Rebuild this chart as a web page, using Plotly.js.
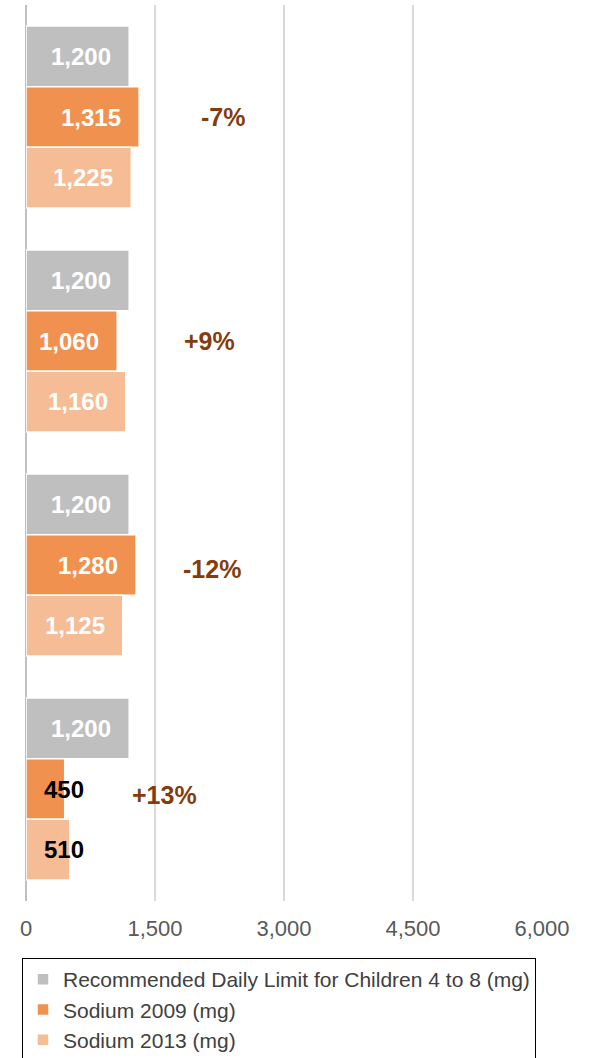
<!DOCTYPE html>
<html>
<head>
<meta charset="utf-8">
<script src="https://cdn.plot.ly/plotly-3.0.1.min.js"></script>
<style>html,body{margin:0;padding:0;background:#fff;}#chart{width:592px;height:1058px;}</style>
</head>
<body>
<div id="chart"></div>
<script>
// ---- data ----
const categories = ['Group 1', 'Group 2', 'Group 3', 'Group 4'];
const recommended = [1200, 1200, 1200, 1200];
const sodium2009 = [1315, 1060, 1280, 450];
const sodium2013 = [1225, 1160, 1125, 510];
const changeLabels = ['-7%', '+9%', '-12%', '+13%'];
const seriesNames = ['Recommended Daily Limit for Children 4 to 8 (mg)', 'Sodium 2009 (mg)', 'Sodium 2013 (mg)'];
const xTicks = [0, 1500, 3000, 4500, 6000];

// ---- style ----
const colors = ['#BFBFBF', '#F0914F', '#F6BC95'];
const FONT = 'Liberation Sans, Arial, sans-serif';
const W = 592, H = 1058;
const margin = {l: 26, r: 50, t: 5, b: 157, autoexpand: false};
const bargap = 0.1875;
const plotH = H - margin.t - margin.b;
const slotPx = (plotH / categories.length) * (1 - bargap) / 3;
const changeXShift = [60, 56, 45, 60];
const changeYShift = [0, 0, -4, -6];

const series = [recommended, sodium2009, sodium2013];
const traces = series.map((vals, i) => ({
  type: 'bar',
  orientation: 'h',
  name: seriesNames[i],
  legendgroup: 'g' + i,
  y: categories,
  x: vals,
  marker: {color: colors[i], line: {color: '#FFFFFF', width: 1.5}},
  hoverinfo: 'x+name'
}));

const annotations = [];
series.forEach((vals, i) => {
  const yshift = (1 - i) * slotPx;
  vals.forEach((v, j) => {
    const fits = v >= 800;
    annotations.push({
      x: fits ? v : 0,
      y: categories[j],
      xref: 'x', yref: 'y',
      text: v.toLocaleString('en-US'),
      showarrow: false,
      xanchor: fits ? 'right' : 'left',
      xshift: fits ? -16 : 16,
      yshift: yshift,
      font: {family: FONT, size: 24, color: fits ? '#FFFFFF' : '#000000', weight: 'bold'}
    });
  });
});
changeLabels.forEach((t, j) => {
  annotations.push({
    x: Math.max(sodium2009[j], sodium2013[j]),
    y: categories[j],
    xref: 'x', yref: 'y',
    text: '<b>' + t + '</b>',
    showarrow: false,
    xanchor: 'left',
    xshift: changeXShift[j],
    yshift: changeYShift[j],
    font: {family: FONT, size: 25, color: '#843C0C', weight: 'bold'}
  });
});

const layout = {
  width: W, height: H,
  margin: margin,
  paper_bgcolor: '#FFFFFF',
  plot_bgcolor: '#FFFFFF',
  barmode: 'group',
  bargap: bargap,
  bargroupgap: 0,
  font: {family: FONT, color: '#595959'},
  xaxis: {
    range: [0, 6000],
    tickvals: xTicks,
    ticktext: xTicks.map(v => v.toLocaleString('en-US')),
    showgrid: true,
    gridcolor: '#D9D9D9',
    gridwidth: 1.2,
    zeroline: true,
    zerolinecolor: '#BFBFBF',
    zerolinewidth: 1.2,
    showline: false,
    ticks: '',
    ticklabelstandoff: 12,
    tickfont: {family: FONT, size: 22, color: '#595959'},
    automargin: false,
    fixedrange: true
  },
  yaxis: {
    type: 'category',
    autorange: 'reversed',
    showticklabels: false,
    showgrid: false,
    zeroline: false,
    showline: false,
    ticks: '',
    automargin: false,
    fixedrange: true
  },
  showlegend: true,
  legend: {
    orientation: 'v',
    x: (22 - margin.l) / (W - margin.l - margin.r),
    xanchor: 'left',
    y: -(958 - (H - margin.b)) / plotH,
    yanchor: 'top',
    traceorder: 'normal',
    tracegroupgap: 17,
    bordercolor: '#000000',
    borderwidth: 1,
    bgcolor: '#FFFFFF',
    font: {family: FONT, size: 21, color: '#404040'}
  },
  annotations: annotations
};

Plotly.newPlot('chart', traces, layout, {displayModeBar: false, staticPlot: true});
</script>
</body>
</html>
